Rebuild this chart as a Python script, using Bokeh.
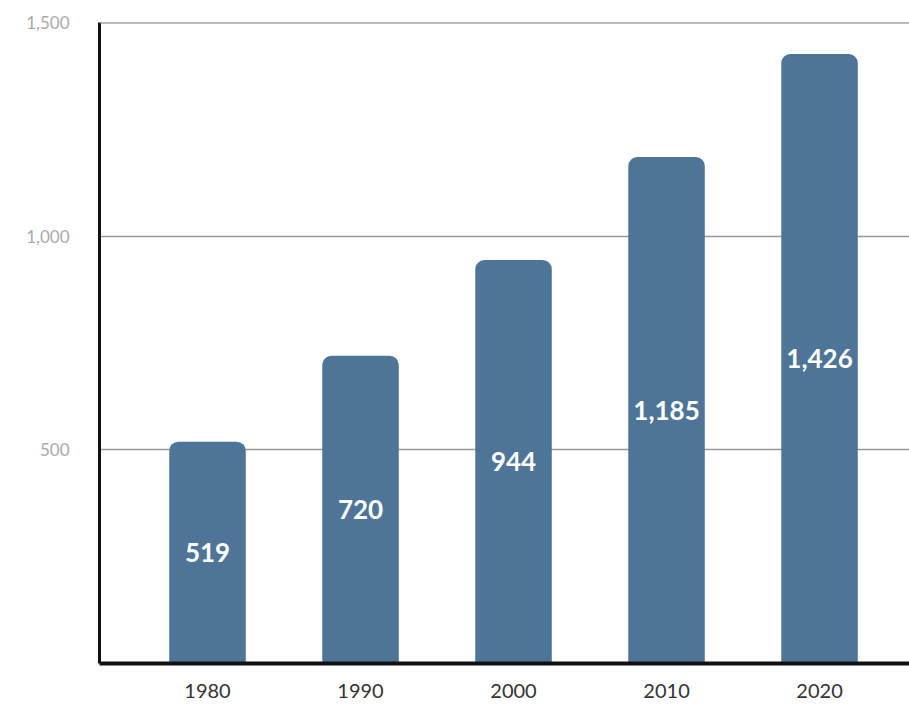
from bokeh.plotting import figure
from bokeh.models import FixedTicker, ColumnDataSource, Range1d, NumeralTickFormatter, Span
from bokeh.core.properties import value
from bokeh.embed import file_html
from bokeh.resources import INLINE

years = [1980, 1990, 2000, 2010, 2020]
counts = [519, 720, 944, 1185, 1426]
labels = ["519", "720", "944", "1,185", "1,426"]
y_ticks = [500, 1000, 1500]

src = ColumnDataSource(dict(
    x=years,
    top=counts,
    mid=[c / 2 for c in counts],
    label=labels,
))

p = figure(width=909, height=705, output_backend="svg", toolbar_location=None,
           x_range=Range1d(1972.94, 2025.88), y_range=Range1d(0, 1500),
           min_border_left=99, min_border_right=0, min_border_top=22, min_border_bottom=42)
p.outline_line_color = None
p.background_fill_color = "white"
p.border_fill_color = "white"

p.vbar(x="x", top="top", width=5.0, source=src, fill_color="#4e7597",
       line_color=None, border_radius=(9, 9, 0, 0))

p.text(x="x", y="mid", text="label", source=src, text_color="white",
       text_font=value("Lato"), text_font_style="bold", text_font_size="26px",
       text_align="center", text_baseline="middle")

p.xaxis.ticker = FixedTicker(ticks=years)
p.xaxis.major_label_overrides = {y: str(y) for y in years}
p.xaxis.axis_line_width = 4
p.xaxis.axis_line_color = "#111111"
p.xaxis.major_tick_line_color = None
p.xaxis.minor_tick_line_color = None
p.xaxis.major_label_text_font = "Lato"
p.xaxis.major_label_text_font_size = "20px"
p.xaxis.major_label_text_color = "#333333"
p.xaxis.major_label_standoff = 14

p.yaxis.ticker = FixedTicker(ticks=y_ticks)
p.yaxis.formatter = NumeralTickFormatter(format="0,0")
p.yaxis.axis_line_width = 3
p.yaxis.axis_line_color = "#111111"
p.yaxis.major_tick_line_color = None
p.yaxis.minor_tick_line_color = None
p.yaxis.major_label_text_font = "Lato"
p.yaxis.major_label_text_font_size = "17px"
p.yaxis.major_label_text_color = "#aaaaaa"
p.yaxis.major_label_standoff = 24

p.xgrid.grid_line_color = None
p.ygrid.ticker = FixedTicker(ticks=y_ticks)
p.ygrid.grid_line_color = "#999999"
p.ygrid.grid_line_width = 1.5

p.add_layout(Span(location=y_ticks[-1], dimension="width", line_color="#777777", line_width=2))

open("out.html", "w").write(file_html(p, INLINE))
